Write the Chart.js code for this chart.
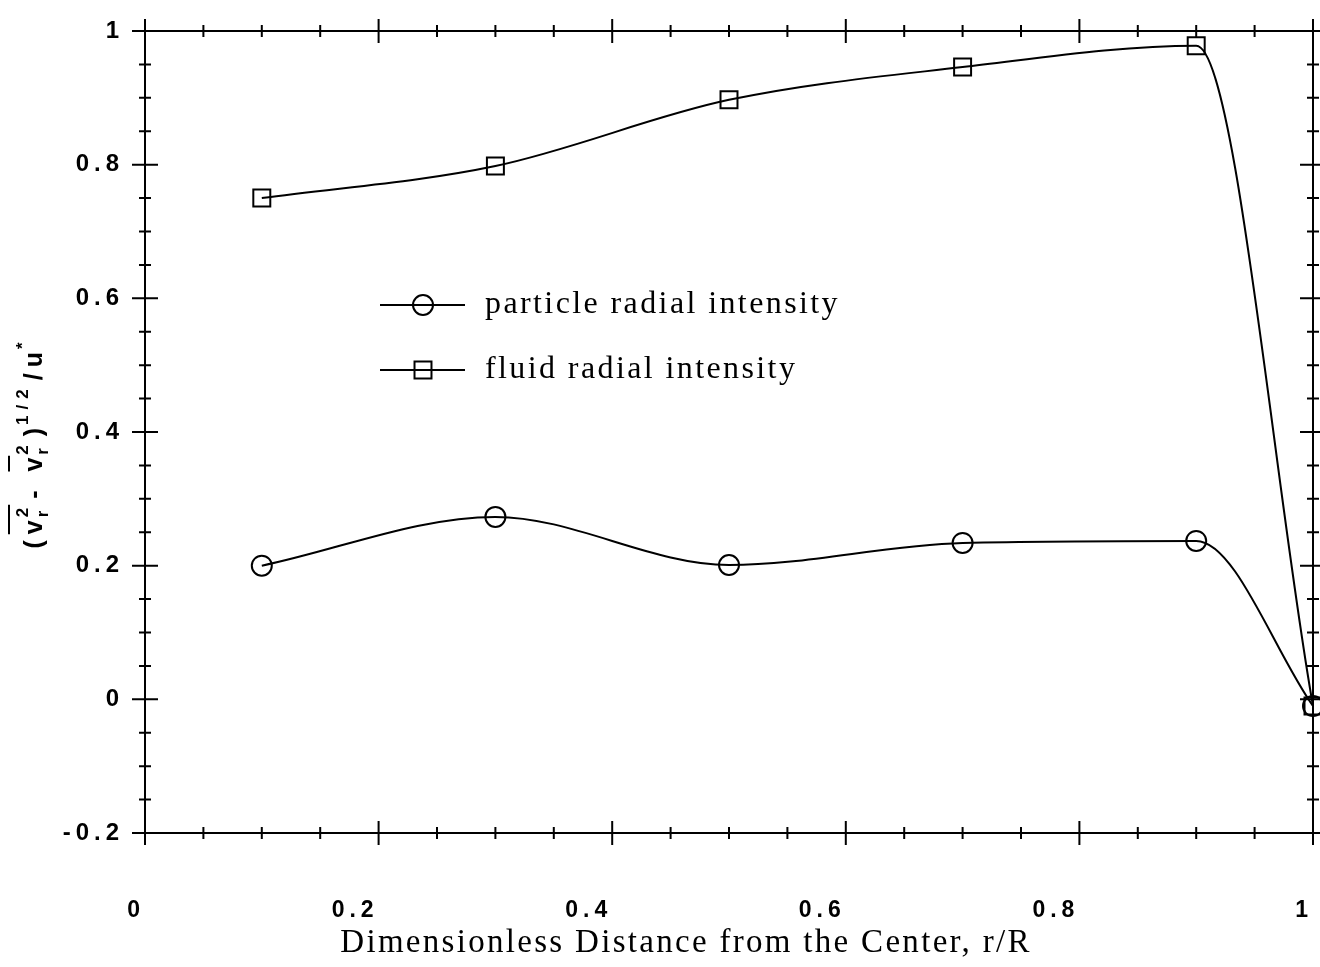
<!DOCTYPE html>
<html>
<head>
<meta charset="utf-8">
<title>Radial intensity profiles</title>
<script src="https://cdn.jsdelivr.net/npm/chart.js@4.4.1/dist/chart.umd.min.js"></script>
<style>
  html, body { margin: 0; padding: 0; background: #fff; overflow: hidden; }
  /* a little wider than the window so the plot box reaches x = 1313 */
  #wrap { width: 1327px; height: 967px; }
  #chart1 { display: block; }
</style>
</head>
<body>
<div id="wrap"><canvas id="chart1"></canvas></div>
<script>
// measurement stations, r/R
var radius = [0.1, 0.3, 0.5, 0.7, 0.9, 1.0];
var particleIntensity = [0.200, 0.273, 0.201, 0.234, 0.237, -0.01];
var fluidIntensity = [0.750, 0.798, 0.897, 0.946, 0.978, -0.01];
var seriesNames = ['particle radial intensity', 'fluid radial intensity'];
var seriesMarkers = ['circle', 'rect'];
var xMajor = [0, 0.2, 0.4, 0.6, 0.8, 1];
var yMajor = [-0.2, 0, 0.2, 0.4, 0.6, 0.8, 1];
var xTitle = 'Dimensionless Distance from the Center, r/R';

function isMajor(list, v) {
    return list.some(function (m) { return Math.abs(m - v) < 1e-6; });
}
function tickText(list, v) {
    if (!isMajor(list, v)) return '';
    return String(Math.round(v * 10) / 10);
}
function points(ys) {
    return radius.map(function (x, i) { return { x: x, y: ys[i] }; });
}

// box around the plot with "+" ticks crossing every side
var framePlugin = {
    id: 'frame',
    beforeDatasetsDraw: function (chart) {
        var ctx = chart.ctx, a = chart.chartArea;
        var xs = chart.scales.x, ys = chart.scales.y;
        ctx.save();
        ctx.strokeStyle = '#000';
        ctx.lineWidth = 2;
        ctx.strokeRect(a.left, a.top, a.right - a.left, a.bottom - a.top);
        ctx.beginPath();
        xs.ticks.forEach(function (t) {
            var px = xs.getPixelForValue(t.value);
            var len = isMajor(xMajor, t.value) ? 12 : 6;
            [a.top, a.bottom].forEach(function (py) {
                ctx.moveTo(px, py - len);
                ctx.lineTo(px, py + len);
            });
        });
        ys.ticks.forEach(function (t) {
            var py = ys.getPixelForValue(t.value);
            var len = isMajor(yMajor, t.value) ? 13 : 6;
            [a.left, a.right].forEach(function (px) {
                ctx.moveTo(px - len, py);
                ctx.lineTo(px + len, py);
            });
        });
        ctx.stroke();
        ctx.restore();
    }
};

// legend inside the plot area
var legendPlugin = {
    id: 'innerLegend',
    afterDraw: function (chart) {
        var ctx = chart.ctx;
        ctx.save();
        chart.data.datasets.forEach(function (ds, i) {
            var y = 305 + i * 65;
            ctx.strokeStyle = '#000';
            ctx.lineWidth = 2;
            ctx.beginPath();
            ctx.moveTo(380, y);
            ctx.lineTo(465, y);
            ctx.stroke();
            ctx.fillStyle = 'rgba(0,0,0,0)';
            Chart.helpers.drawPoint(ctx, {
                pointStyle: ds.pointStyle, radius: ds.pointRadius,
                rotation: 0, borderWidth: 2
            }, 423, y);
            ctx.fillStyle = '#000';
            ctx.letterSpacing = '2.4px';
            ctx.font = '32px "Liberation Serif"';
            ctx.textBaseline = 'middle';
            ctx.textAlign = 'left';
            ctx.fillText(ds.label, 485, y);
        });
        ctx.restore();
    }
};

// x axis title under the tick labels
var xTitlePlugin = {
    id: 'xTitle',
    afterDraw: function (chart) {
        var ctx = chart.ctx, a = chart.chartArea;
        ctx.save();
        ctx.letterSpacing = '2.3px';
        ctx.font = '33px "Liberation Serif"';
        ctx.fillStyle = '#000';
        ctx.textAlign = 'center';
        ctx.textBaseline = 'middle';
        ctx.fillText(xTitle, (a.left + a.right) / 2 - 43, 943);
        ctx.restore();
    }
};

// rotated y title with sub/superscripts and overbars
var yTitlePlugin = {
    id: 'yTitle',
    afterDraw: function (chart) {
        var ctx = chart.ctx;
        var big = 'bold 25px "Liberation Sans"', small = 'bold 17px "Liberation Sans"';
        var parts = [
            { base: '(' },
            { base: 'v', sub: 'r', sup: '2', bar: 'all' },
            { base: '- ' },
            { base: 'v', sub: 'r', sup: '2', bar: 'base' },
            { base: ')', sup: '1/2' },
            { base: '/u', sup: '*' }
        ];
        ctx.save();
        ctx.letterSpacing = '6px';
        parts.forEach(function (p) {
            ctx.font = big;
            p.bw = ctx.measureText(p.base).width;
            ctx.font = small;
            p.sw = Math.max(p.sub ? ctx.measureText(p.sub).width : 0,
                            p.sup ? ctx.measureText(p.sup).width : 0);
        });
        var total = parts.reduce(function (s, p) { return s + p.bw + p.sw; }, 0);
        ctx.translate(34, 441);
        ctx.rotate(-Math.PI / 2);
        ctx.fillStyle = '#000';
        ctx.strokeStyle = '#000';
        ctx.lineWidth = 2;
        ctx.textBaseline = 'alphabetic';
        var x = -total / 2;
        parts.forEach(function (p) {
            ctx.font = big;
            ctx.fillText(p.base, x, 8);
            ctx.font = small;
            if (p.sub) ctx.fillText(p.sub, x + p.bw - 3, 14);
            if (p.sup) ctx.fillText(p.sup, x + p.bw - 3, -6);
            if (p.bar) {
                var w = p.bar === 'all' ? p.bw + p.sw - 6 : p.bw - 4;
                ctx.beginPath();
                ctx.moveTo(x, -25);
                ctx.lineTo(x + w, -25);
                ctx.stroke();
            }
            x += p.bw + p.sw;
        });
        ctx.restore();
    }
};

// spaced-out tick digits like the typewriter axis labels
var spacingPlugin = {
    id: 'spacing',
    beforeDraw: function (chart) { chart.ctx.letterSpacing = '5px'; }
};

var ctx1 = document.getElementById('chart1').getContext('2d');
var chart1 = new Chart(ctx1, {
    type: 'line',
    data: {
        datasets: [
            {
                label: seriesNames[0],
                data: points(particleIntensity),
                pointStyle: seriesMarkers[0],
                pointRadius: 10
            },
            {
                label: seriesNames[1],
                data: points(fluidIntensity),
                pointStyle: seriesMarkers[1],
                pointRadius: 12
            }
        ].map(function (d) {
            d.borderColor = '#000';
            d.borderWidth = 2;
            d.pointBorderColor = '#000';
            d.pointBackgroundColor = 'rgba(0,0,0,0)';
            d.pointBorderWidth = 2;
            d.cubicInterpolationMode = 'monotone';
            d.clip = false;
            return d;
        })
    },
    options: {
        responsive: true,
        maintainAspectRatio: false,
        animation: false,
        layout: { padding: { top: 31, right: 3.5, left: 0, bottom: 0 } },
        plugins: {
            legend: { display: false },
            tooltip: { enabled: false }
        },
        scales: {
            x: {
                type: 'linear',
                min: 0,
                max: 1,
                afterFit: function (s) {
                    s.height = 134;
                    s.paddingLeft = 0;
                    s.paddingRight = 0;
                },
                grid: { display: false },
                border: { display: false },
                ticks: {
                    stepSize: 0.05,
                    autoSkip: false,
                    maxRotation: 0,
                    align: 'end',
                    padding: 56,
                    color: '#000',
                    font: { family: 'Liberation Sans', size: 23, weight: 'bold' },
                    callback: function (v) { return tickText(xMajor, v); }
                }
            },
            y: {
                min: -0.2,
                max: 1,
                afterFit: function (s) {
                    s.width = 145;
                    s.paddingTop = 0;
                },
                grid: { display: false },
                border: { display: false },
                ticks: {
                    stepSize: 0.05,
                    autoSkip: false,
                    padding: 13,
                    color: '#000',
                    font: { family: 'Liberation Sans', size: 24, weight: 'bold' },
                    callback: function (v) { return tickText(yMajor, v); }
                }
            }
        }
    },
    plugins: [spacingPlugin, framePlugin, legendPlugin, xTitlePlugin, yTitlePlugin]
});
</script>
</body>
</html>
